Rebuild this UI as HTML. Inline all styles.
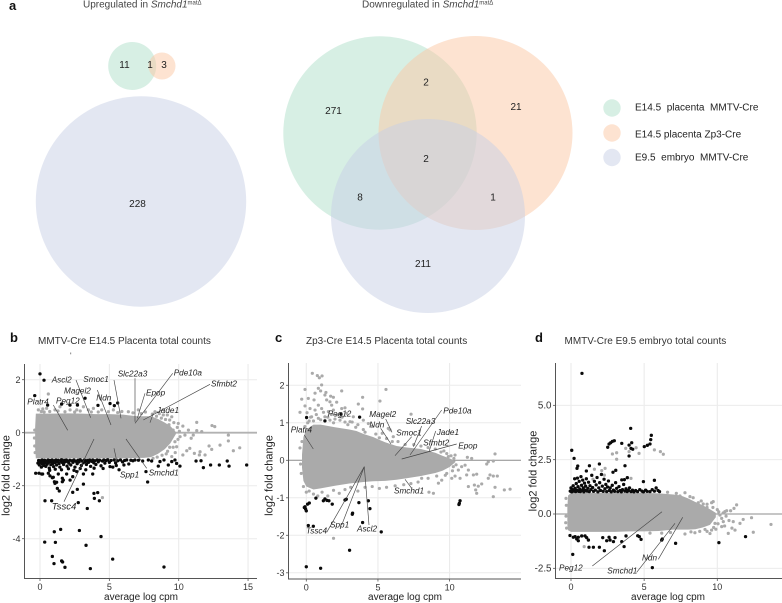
<!DOCTYPE html>
<html lang="en">
<head>
<meta charset="utf-8">
<title>Smchd1 Venn diagrams and MA plots</title>
<style>
html,body{margin:0;padding:0;background:#fff;width:782px;height:603px;overflow:hidden}
svg{display:block;font-family:"Liberation Sans",sans-serif}
.num{font-size:10px;fill:#222;text-anchor:middle}
.leg{font-size:10px;fill:#222;white-space:pre}
.head{font-size:10px;fill:#444}
.title{font-size:10px;fill:#333}
.letter{font-size:13px;font-weight:bold;fill:#111}
.gene{font-size:8.2px;font-style:italic;fill:#222}
.conn{stroke:#444;stroke-width:.65;fill:none}
.xl{font-size:10px;fill:#222;text-anchor:middle}
.yl{font-size:11px;fill:#222;text-anchor:middle}
</style>
</head>
<body>
<svg id="figure" width="782" height="603" viewBox="0 0 782 603" xmlns="http://www.w3.org/2000/svg">
  <g id="venn">
    <text class="letter" x="9" y="10">a</text>
    <text class="head" x="83" y="7.5">Upregulated in <tspan font-style="italic">Smchd1</tspan><tspan font-size="6" dy="-3">matΔ</tspan></text>
    <text class="head" x="362" y="7.5">Downregulated in <tspan font-style="italic">Smchd1</tspan><tspan font-size="6" dy="-3">matΔ</tspan></text>
    <g>
      <circle cx="132.2" cy="66" r="24" fill="#afdfc9" fill-opacity=".5"/>
      <circle cx="162" cy="66" r="13.5" fill="#fbc7a3" fill-opacity=".5"/>
      <circle cx="141" cy="201.5" r="105.2" fill="#c7cfe5" fill-opacity=".5"/>
      <text class="num" x="124.5" y="68">11</text>
      <text class="num" x="150" y="68">1</text>
      <text class="num" x="164" y="68">3</text>
      <text class="num" x="137.5" y="207">228</text>
    </g>
    <g>
      <circle cx="380" cy="133" r="96.7" fill="#afdfc9" fill-opacity=".5"/>
      <circle cx="475.5" cy="133" r="97" fill="#fbc7a3" fill-opacity=".5"/>
      <circle cx="428" cy="216" r="97" fill="#c7cfe5" fill-opacity=".5"/>
      <text class="num" x="333.5" y="114">271</text>
      <text class="num" x="426" y="85.5">2</text>
      <text class="num" x="516" y="110">21</text>
      <text class="num" x="426" y="162">2</text>
      <text class="num" x="360" y="200.5">8</text>
      <text class="num" x="493" y="200.5">1</text>
      <text class="num" x="423" y="267">211</text>
    </g>
    <g>
      <circle cx="612" cy="108" r="8.7" fill="#d7efe4"/>
      <circle cx="612" cy="133" r="8.7" fill="#fde3d1"/>
      <circle cx="612" cy="157.5" r="8.7" fill="#e3e7f2"/>
      <text class="leg" x="635" y="110.5" xml:space="preserve">E14.5  placenta  MMTV-Cre</text>
      <text class="leg" x="635" y="137.5" xml:space="preserve">E14.5 placenta Zp3-Cre</text>
      <text class="leg" x="635" y="160.5" xml:space="preserve">E9.5  embryo  MMTV-Cre</text>
    </g>
  </g>

  <g id="panel-b"></g>
  <g id="panel-c"></g>
  <g id="panel-d"></g>

  <g>
    <text class="letter" x="10" y="342">b</text>
    <text class="title" x="38" y="344">MMTV-Cre E14.5 Placenta total counts</text>
    <rect x="70" y="352.5" width="1.2" height="1.8" fill="#999"/>
    <text class="xl" x="141" y="600">average log cpm</text>
    <text class="yl" transform="translate(9.5,475.5) rotate(-90)">log2 fold change</text>
    <g>
      <line class="conn" x1="53.3" y1="405" x2="67.7" y2="430.3"/>
      <line class="conn" x1="76" y1="380" x2="90.7" y2="417.7"/>
      <line class="conn" x1="97.3" y1="390" x2="111" y2="425"/>
      <line class="conn" x1="114" y1="380" x2="121" y2="418.3"/>
      <line class="conn" x1="135" y1="378.3" x2="135" y2="421.7"/>
      <line class="conn" x1="145" y1="393.3" x2="137.3" y2="418.3"/>
      <line class="conn" x1="172.7" y1="373.3" x2="135" y2="423.3"/>
      <line class="conn" x1="210" y1="384.3" x2="143.3" y2="420"/>
      <line class="conn" x1="153.3" y1="413.3" x2="150" y2="422.7"/>
      <line class="conn" x1="64" y1="501.7" x2="94" y2="439"/>
      <line class="conn" x1="114" y1="448.3" x2="117" y2="462"/>
      <line class="conn" x1="126" y1="439" x2="146.7" y2="468.3"/>
    </g>
    <text class="gene" x="51.7" y="382.3">Ascl2</text>
    <text class="gene" x="83.3" y="382">Smoc1</text>
    <text class="gene" x="117.7" y="376.7">Slc22a3</text>
    <text class="gene" x="173.7" y="375.3">Pde10a</text>
    <text class="gene" x="211" y="386.3">Sfmbt2</text>
    <text class="gene" x="64" y="393.3">Magel2</text>
    <text class="gene" x="146" y="395.7">Epop</text>
    <text class="gene" x="96.3" y="400.3">Ndn</text>
    <text class="gene" x="27.3" y="404.3">Platr4</text>
    <text class="gene" x="56" y="403.3">Peg12</text>
    <text class="gene" x="156.7" y="413">Jade1</text>
    <text class="gene" x="120" y="477.7">Spp1</text>
    <text class="gene" x="148.7" y="475.3">Smchd1</text>
    <text class="gene" x="51.7" y="509.3" style="font-size:9.6px">Tssc4</text>
  </g>

  <g>
    <text class="letter" x="275" y="342">c</text>
    <text class="title" x="306" y="344">Zp3-Cre E14.5 Placenta total counts</text>
    <text class="xl" x="405" y="600">average log cpm</text>
    <text class="yl" transform="translate(272.5,475.5) rotate(-90)">log2 fold change</text>
    <g>
      <line class="conn" x1="304.3" y1="435" x2="313.3" y2="449"/>
      <line class="conn" x1="385.7" y1="419" x2="392" y2="432.3"/>
      <line class="conn" x1="380.7" y1="428.3" x2="391" y2="444"/>
      <line class="conn" x1="411.7" y1="436.7" x2="395" y2="455.7"/>
      <line class="conn" x1="421.7" y1="426" x2="413.3" y2="446.7"/>
      <line class="conn" x1="441.7" y1="410" x2="410" y2="455"/>
      <line class="conn" x1="435.7" y1="431" x2="429" y2="451.7"/>
      <line class="conn" x1="456.7" y1="444" x2="401.7" y2="459"/>
      <line class="conn" x1="411.7" y1="488.3" x2="405" y2="479.3"/>
      <line class="conn" x1="326.7" y1="532.3" x2="364.3" y2="466.7"/>
      <line class="conn" x1="341.7" y1="525" x2="364.3" y2="466.7"/>
      <line class="conn" x1="369" y1="525" x2="364.3" y2="466.7"/>
    </g>
    <text class="gene" x="327.7" y="416.3">Peg12</text>
    <text class="gene" x="369.3" y="417">Magel2</text>
    <text class="gene" x="369.3" y="427.3">Ndn</text>
    <text class="gene" x="443.3" y="413.7">Pde10a</text>
    <text class="gene" x="405.7" y="424">Slc22a3</text>
    <text class="gene" x="290.7" y="432.3">Platr4</text>
    <text class="gene" x="396.3" y="435.3">Smoc1</text>
    <text class="gene" x="436.7" y="435">Jade1</text>
    <text class="gene" x="423.3" y="445.3">Sfmbt2</text>
    <text class="gene" x="458.3" y="448.3">Epop</text>
    <text class="gene" x="394" y="493.7">Smchd1</text>
    <text class="gene" x="330" y="527.3">Spp1</text>
    <text class="gene" x="306" y="533.3">Tssc4</text>
    <text class="gene" x="357" y="531.7">Ascl2</text>
  </g>

  <g>
    <text class="letter" x="535" y="342">d</text>
    <text class="title" x="564.5" y="344">MMTV-Cre E9.5 embryo total counts</text>
    <text class="xl" x="668" y="600">average log cpm</text>
    <text class="yl" transform="translate(536.5,471) rotate(-90)">log2 fold change</text>
    <g>
      <line class="conn" x1="592.3" y1="566" x2="662" y2="511.7"/>
      <line class="conn" x1="636.7" y1="572.3" x2="675" y2="523.3"/>
      <line class="conn" x1="658.3" y1="559.3" x2="682.7" y2="517.3"/>
    </g>
    <text class="gene" x="559" y="570.3">Peg12</text>
    <text class="gene" x="607.3" y="573.7">Smchd1</text>
    <text class="gene" x="642" y="560.3">Ndn</text>
  </g>
</svg>

<script>
/* Panel b data: average log cpm / log2 fold change */
var bTicksX = [0, 5, 10, 15];
var bTicksY = [2, 0, -2, -4];
var bTickLabelsY = ['2', '0', '-2', '-4'];
var bDenseX = [-.35, -.3, 0, 1, 2, 3, 4, 5, 6, 7, 7.5, 8, 8.5, 9, 9.4, 9.8];
var bDenseUpper = [.2, .72, .72, .72, .73, .72, .7, .7, .68, .62, .62, .62, .52, .38, .25, .02];
var bDenseLower = [-.6, -.97, -.97, -.97, -.97, -.97, -.97, -.97, -.97, -.95, -.95, -.92, -.8, -.62, -.4, -.05];
var bGray = [[.6,1.46],[-.12,.86],[.1,.8],[.48,.92],[.3,.78],[1.08,.86],[1.44,.98],[1.8,.79],[2.17,.86],[2.65,.86],[3.13,.98],[3.49,.86],[3.85,.92],[4.45,.86],[4.93,.79],[5.29,.86],[5.9,.8],[6.37,.79],[7.09,.86],[7.6,.78],[8.29,.79],[8.89,.67],[8.6,.72],[9.18,.67],[9.5,.6],[9.97,.35],[10.3,.25],[10.7,.1],[11.3,.39],[12.4,.27],[12.6,.23],[13.58,-.09],[13.58,-.31],[14.4,-.57],[13.94,-.68],[12.98,-.47],[12.19,-.5],[12.38,-.63],[11.54,-.72],[11.49,-.84],[11.13,-.78],[11.9,-.84],[10.8,-.59],[10.58,-.68],[10.3,-.84],[10.9,-.21],[11.3,.08],[11.66,.04],[10.1,-.15],[10.45,-.09],[9.73,-.34],[9.85,-.53],[11.05,-.09],[9.6,.1],[9.3,.3],[9.75,-.75],[9.35,-.55],[9.1,-.8],[9.5,-.9],[4.5,-2.45],[1.7,-.98],[3.4,-1.02],[5.5,-.98],[2.7,-1.05],[8.1,.7],[8.4,.62],[8.75,.55],[9.05,.5],[9.35,.48],[9.65,.38],[9.9,.2],[10.05,.05],[9.95,-.25],[9.6,-.55],[9.2,-.7],[8.8,-.85],[8.45,-.92],[8.15,-.97],[-.38,.1],[-.4,-.2],[-.38,-.5],[-.35,-.75],[.7,.8],[1.3,.82],[2.5,.78],[3.7,.78],[4.2,.78],[5.6,.76],[6.7,.75],[7.3,.72],[.2,.9],[2.9,.82]];
var bBlack = [[0,2.22],[.29,1.98],[-.38,1.4],[.55,1.04],[1.56,1.08],[2.16,1.04],[2.7,1.04],[3.25,1.3],[4.18,1.03],[5.05,1.1],[5.36,1.02],[5.6,1.12],[-.1,-1.05],[-.15,-1.15],[-.05,-1.22],[0,-1.06],[.05,-1.12],[.1,-1.3],[.15,-1.03],[.18,-1.18],[.25,-1.09],[.28,-1.24],[.33,-1.04],[.38,-1.14],[.42,-1.27],[.47,-1.07],[.52,-1.19],[.58,-1.03],[.62,-1.12],[.67,-1.34],[.72,-1.05],[.78,-1.21],[.82,-1.1],[.87,-1.03],[.93,-1.16],[.98,-1.28],[1.03,-1.06],[1.08,-1.13],[1.15,-1.03],[1.2,-1.22],[1.25,-1.09],[1.32,-1.04],[1.38,-1.16],[1.43,-1.3],[1.5,-1.07],[1.55,-1.02],[1.62,-1.13],[1.7,-1.2],[1.75,-1.05],[1.82,-1.1],[1.9,-1.03],[1.95,-1.26],[2,-1.08],[2.08,-1.15],[2.15,-1.04],[2.22,-1.22],[2.3,-1.06],[2.38,-1.12],[2.45,-1.03],[2.52,-1.3],[2.6,-1.08],[2.68,-1.17],[2.75,-1.04],[2.82,-1.1],[2.9,-1.02],[2.98,-1.24],[3.05,-1.07],[3.12,-1.14],[3.2,-1.03],[3.28,-1.09],[3.35,-1.2],[3.42,-1.05],[3.5,-1.12],[3.58,-1.03],[3.65,-1.27],[3.72,-1.08],[3.8,-1.03],[3.88,-1.14],[3.95,-1.06],[4.03,-1.2],[4.12,-1.03],[4.2,-1.1],[4.3,-1.04],[4.4,-1.25],[4.5,-1.07],[4.6,-1.03],[4.68,-1.15],[4.78,-1.05],[4.88,-1.02],[5,-1.12],[5.12,-1.05],[5.25,-1.3],[5.35,-1.03],[5.45,-1.14],[5.6,-1.06],[5.7,-1.4],[5.8,-1.03],[5.95,-1.1],[6.1,-1.05],[6.25,-1.03],[6.4,-1.18],[6.55,-1.04],[6.7,-1.06],[6.85,-1.03],[7.1,-1.04],[7.4,-1.07],[7.81,-1.03],[8.05,-1.07],[8.53,-1.26],[8.65,-1.09],[8.94,-1.03],[9.25,-1.22],[9.5,-1.09],[9.73,-1.03],[9.85,-1.16],[10.09,-1.26],[11.25,-1.07],[11.61,-1.06],[11.78,-1.32],[12.3,-1.22],[12.93,-1.22],[13.5,-1.07],[13.63,-1.26],[14.9,-1.22],[7.64,-1.47],[7.76,-1.86],[-.31,-1.53],[-.07,-1.53],[.12,-1.56],[.19,-1.56],[.6,-1.53],[.72,-1.63],[.89,-1.7],[.96,-1.68],[1.08,-1.91],[1.04,-1.85],[1.2,-1.87],[1.25,-2.1],[1.39,-2.2],[1.32,-1.56],[1.61,-1.72],[1.61,-1.85],[1.68,-1.79],[1.92,-1.56],[2.17,-1.79],[2.36,-1.66],[2.65,-1.47],[3.13,-1.56],[3.8,-1.56],[3.13,-1.94],[2.69,-2.14],[2.36,-2.25],[.36,-2.57],[.84,-2.57],[2.76,-2.64],[3.41,-2.86],[3.89,-2.29],[4.16,-2.26],[3.92,-2.48],[4.28,-2.57],[1.03,-3.74],[1.49,-3.65],[2.84,-3.69],[4.4,-3.92],[.34,-4.13],[1.11,-4.14],[3.32,-4.25],[.89,-4.67],[1.01,-4.94],[1.56,-4.84],[1.63,-4.88],[1.8,-5.08],[3.63,-5.13],[5.24,-4.77],[8.94,-5.07],[.7,-1.42],[1.1,-1.38],[1.55,-1.4],[2.05,-1.36],[2.45,-1.42],[2.9,-1.35],[3.3,-1.4],[3.9,-1.34],[4.55,-1.35],[5.05,-1.28],[5.5,-1.24],[6.05,-1.22]];

/* Panel c data */
var cTicksX = [0, 5, 10];
var cTicksY = [2, 1, 0, -1, -2, -3];
var cTickLabelsY = ['2', '1', '0', '-1', '-2', '-3'];
var cDenseX = [-.3, -.2, 0, .5, 1, 2, 3, 3.5, 4, 4.66, 5.5, 6.3, 7, 8, 9, 9.5, 10, 10.4];
var cDenseUpper = [.15, .62, .82, .95, .95, .88, .82, .78, .7, .62, .48, .38, .34, .3, .2, .12, .05, -.02];
var cDenseLower = [-.2, -.55, -.7, -.78, -.75, -.68, -.62, -.6, -.58, -.56, -.55, -.52, -.48, -.42, -.34, -.28, -.18, -.05];
var cGray = [[.42,2.32],[.77,2.26],[.91,2.2],[1.1,2.25],[1.07,2.01],[-.09,1.89],[.84,1.92],[.61,1.79],[1,1.85],[1.3,1.74],[1.37,1.81],[.14,1.65],[-.32,1.63],[.54,1.61],[1.7,1.71],[2.47,1.85],[5.56,1.89],[1.89,1.68],[2.12,1.55],[1.42,1.61],[.84,1.47],[1.65,1.56],[1.77,1.47],[-.09,1.45],[-.44,1.28],[3.93,1.68],[3.63,1.5],[5.14,1.58],[3.93,1.37],[2.7,1.4],[2.47,1.38],[.26,1.38],[1.07,1.38],[.61,1.34],[1.89,1.34],[.05,1.27],[2.82,1.25],[3.28,1.16],[3.98,1.07],[4.33,.98],[4.56,.9],[3.05,1.03],[2.12,1.21],[1.54,1.3],[.37,1.16],[.84,1.12],[2.35,1.07],[1.65,1.07],[.2,1.05],[1.3,1.16],[2.9,.95],[3.6,.95],[5.72,.85],[6.07,.63],[5.3,.72],[5.84,.81],[7.31,1.23],[3.98,.82],[-.44,.33],[.1,1],[.5,1.05],[1.9,1],[13.17,.17],[12.7,-.04],[13.05,-.02],[12.59,-.1],[11.24,.08],[11.54,.05],[10.38,.14],[11.89,-.37],[11.66,-.39],[12.24,-.63],[12.82,-.39],[13.05,-.42],[13.33,-.42],[12.7,-.48],[11.73,-.66],[11.31,-.7],[12,-.69],[11.82,-.79],[11.89,-.88],[13.17,-.72],[13.82,-.79],[14.22,-.77],[13.05,-.97],[11.31,-.26],[11.19,-.39],[10.73,-.48],[10.38,-.42],[10.61,-.26],[10.15,-.48],[9.45,-.53],[9.22,-.61],[8.87,-.88],[8.56,-.85],[8.05,-.48],[11.08,-.13],[10.84,-.17],[10.26,-.17],[9.8,-.35],[9.91,.1],[.2,-.82],[.5,-.9],[.8,-.95],[1.1,-.85],[1.5,-.95],[1.9,-.8],[2.3,-.88],[2.7,-.78],[3.1,-.72],[3.6,-.82],[4.1,-.72],[4.6,-.7],[5.1,-.75],[5.6,-.72],[6.2,-.68],[6.8,-.65],[7.3,-.62],[7.8,-.58],[1.9,-2.08],[.3,1.15],[.7,1.22],[1,1.08],[1.2,1.28],[1.5,1.15],[1.75,1.22],[2,1.1],[2.5,1.15],[2.7,1.02],[3.2,1.02],[3.45,.88],[4.1,.75],[4.85,.7],[5.1,.6],[5.6,.58],[6,.5],[6.4,.5],[6.9,.42],[7.5,.42],[8,.38],[8.5,.34],[9,.3],[9.4,.22],[9.8,.18],[10.1,.12],[10.3,.05],[9.6,.25],[10.45,-.12],[10.2,-.28],[9.7,-.4],[9.1,-.42],[8.5,-.48],[-.4,-.1],[-.35,-.35],[-.3,.5],[-.1,.9],[-.2,-.7],[0,-.85],[.4,.35]];
var cBlack = [[.02,1.14],[1.3,1.05],[2.42,1.23],[3.72,1.15],[-.09,-1.24],[-.05,-1.3],[0,-1.35],[.09,-1.17],[.21,-1.14],[-.14,-1.26],[.67,-1.01],[1.19,-1.08],[1.3,-1.03],[1.44,-1.07],[1.58,-1.08],[1.81,-1.17],[2.7,-1.06],[2.79,-1.04],[3.67,-1.13],[3.23,-1.41],[3.21,-1.44],[3.93,-1.66],[4.33,-1.08],[4.44,-1.29],[5.23,-1.91],[.14,-1.74],[.49,-1.76],[3.02,-2.4],[0,-2.84],[1,-2.88],[10.73,-1.08],[10.68,-1.15],[10.65,-1.18]];

/* Panel d data */
var dTicksX = [0, 5, 10];
var dTicksY = [5, 2.5, 0, -2.5];
var dTickLabelsY = ['5.0', '2.5', '0.0', '-2.5'];
var dDenseX = [-.25, -.2, 0, 1, 2, 3, 4, 5, 6, 7, 7.5, 8, 8.5, 9, 9.5, 9.9];
var dDenseUpper = [.3, .85, .97, .97, .97, .97, .97, .97, .95, .9, .85, .72, .55, .4, .22, .05];
var dDenseLower = [-.5, -.75, -.82, -.82, -.82, -.82, -.8, -.8, -.78, -.72, -.72, -.72, -.7, -.62, -.5, -.15];
var dGray = [[9.61,.52],[9.72,.57],[11.32,.42],[11.14,.26],[10.91,.15],[10.52,.11],[10.64,.15],[12.34,-.17],[11.77,-.25],[13.67,-.48],[12.46,-.84],[11.21,-.74],[10.75,-.89],[11,-.65],[11.55,-.43],[11.09,-.35],[10.41,-.35],[10.18,-.05],[10.6,-.1],[10.3,-.58],[9.84,-.43],[9.61,-.74],[9.16,-.71],[8.47,-.86],[7.79,-.92],[7.79,.98],[7.45,.83],[8.13,.8],[8.7,.52],[9.04,.46],[9.3,.3],[10,.2],[9.9,-.7],[10.5,-.55],[9.5,-.9],[2.83,2.76],[3.12,2.82],[3.12,2.52],[3.74,3.02],[3.97,2.87],[4.45,3.05],[4.65,2.79],[5.7,2.95],[6.11,2.87],[6.31,2.75],[1.6,2.06],[2.33,2.1],[2.28,1.79],[4.1,1.64],[2.1,2],[-.34,.72],[.9,-1.5],[1.5,1.6],[8.35,.75],[8.9,.6],[9.3,.45],[9.7,.3],[10.1,.1],[10.3,-.2],[10.05,-.45],[9.75,-.62],[9.3,-.8],[8.8,-.8],[8.2,-.82],[6.8,-.85],[6.2,-.88],[5.4,-.88],[6.6,1],[7.2,.95],[-.32,.4],[-.34,-.1],[-.36,-.4],[-.3,-.65],[10.8,-.3],[10.4,.05]];
var dBlack = [[.75,6.47],[4.08,3.94],[5.49,3.62],[5.45,3.42],[.05,2.93],[.21,2.56],[2.96,3.37],[2.83,3.34],[2.71,3.28],[2.6,3.22],[2.51,3.07],[3.47,3.25],[4.15,3.28],[3.97,3.17],[4.1,3.02],[4.22,2.98],[3.97,2.67],[5.4,3.22],[5.22,3.16],[5.01,3.1],[3.69,2.22],[1.94,2.3],[1.26,2.22],[.46,2.21],[.41,2.1],[1.05,1.98],[3.06,2.01],[2.87,1.92],[4.95,1.49],[5.7,1.55],[3.47,1.57],[3.65,1.58],[3.85,1.67],[-.05,1.05],[0,1.2],[.05,1.02],[.1,1.12],[.15,1.3],[.2,1.05],[.25,1.62],[.28,1.18],[.32,1.03],[.36,1.4],[.4,1.1],[.44,1.65],[.48,1.26],[.52,1.04],[.56,1.5],[.6,1.15],[.64,1.03],[.68,1.72],[.72,1.32],[.76,1.08],[.8,1.56],[.84,1.2],[.88,1.02],[.92,1.42],[.96,1.1],[1,1.28],[1.05,1.62],[1.1,1.05],[1.15,1.18],[1.2,1.46],[1.25,1.03],[1.3,1.3],[1.36,1.12],[1.42,1.78],[1.48,1.22],[1.54,1.04],[1.6,1.5],[1.66,1.1],[1.72,1.34],[1.78,1.68],[1.84,1.02],[1.9,1.2],[1.96,1.44],[2.02,1.08],[2.08,1.82],[2.14,1.28],[2.2,1.04],[2.26,1.6],[2.32,1.16],[2.38,1.36],[2.44,1.03],[2.5,1.24],[2.56,1.52],[2.62,1.08],[2.68,1.2],[2.75,1.02],[2.82,1.32],[2.9,1.1],[2.98,1.04],[3.05,1.44],[3.12,1.18],[3.2,1.03],[3.28,1.26],[3.36,1.08],[3.44,1.02],[3.52,1.12],[3.6,1.36],[3.68,1.05],[3.76,1.16],[3.84,1.03],[3.92,1.08],[4,1.2],[4.1,1.03],[4.2,1.1],[4.3,1.02],[4.42,1.08],[4.55,1.03],[4.7,1.12],[4.85,1.05],[4.95,1.02],[5.1,1.1],[5.2,1.04],[5.4,1.03],[5.55,1.12],[5.7,1.05],[5.82,1.2],[5.95,1.08],[6.05,1.03],[-.07,-.99],[.16,-1.07],[.28,-1.04],[.39,-1.15],[.5,-1.07],[.5,-1.23],[.73,-1.01],[.96,-1.01],[1.07,-1.09],[1.19,-1.2],[2.17,-1.09],[2.44,-1.23],[2.6,-1.07],[2.67,-1.2],[3.01,-1.09],[2.9,-1.27],[3.76,-1.01],[3.47,-1.27],[4.56,-1],[4.67,-1.04],[4.79,-1.17],[3.63,-1.5],[1.23,-1.53],[1.53,-1.53],[1.94,-1.53],[2.28,-1.69],[.12,-1.86],[5.56,-2.47],[6.2,-1.2],[6.24,-1.15],[7.15,-1.35],[10.11,-1.32],[11.93,-1.04]];

var SVGNS = 'http://www.w3.org/2000/svg';

function makeAxisX(zeroPx, pxPerUnit) {
  return function (v) { return zeroPx + pxPerUnit * v; };
}
function makeAxisY(zeroPx, pxPerUnit) {
  return function (v) { return zeroPx - pxPerUnit * v; };
}

function drawPanel(groupId, opts, ticksX, ticksY, tickLabelsY, denseX, denseUpper, denseLower, gray, black) {
  var g = document.getElementById(groupId);
  var x = makeAxisX(opts.x0, opts.xs);
  var y = makeAxisY(opts.y0, opts.ys);

  ticksX.forEach(function (t) {
    var el = document.createElementNS(SVGNS, 'line');
    
    
    el.setAttribute('x1', x(t));
    el.setAttribute('x2', x(t));
    el.setAttribute('y1', opts.top);
    el.setAttribute('y2', opts.bottom);
    el.setAttribute('stroke', '#e9e9e9');
    el.setAttribute('stroke-width', '1');
    g.appendChild(el);
  });
  ticksY.forEach(function (t) {
    var el = document.createElementNS(SVGNS, 'line');
    
    
    el.setAttribute('x1', opts.left);
    el.setAttribute('x2', opts.right);
    el.setAttribute('y1', y(t));
    el.setAttribute('y2', y(t));
    el.setAttribute('stroke', t === 0 ? opts.zeroColor : '#ececec');
    el.setAttribute('stroke-width', t === 0 ? opts.zeroWidth : 1);
    g.appendChild(el);
  });

  var pts = [];
  denseX.forEach(function (v, i) { pts.push(x(v) + ',' + y(denseUpper[i])); });
  for (var i = denseX.length - 1; i >= 0; i--) { pts.push(x(denseX[i]) + ',' + y(denseLower[i])); }
  var mass = document.createElementNS(SVGNS, 'polygon');
  
  
  mass.setAttribute('points', pts.join(' '));
  mass.setAttribute('fill', '#aaaaaa');
  g.appendChild(mass);

  gray.forEach(function (p) {
    var el = document.createElementNS(SVGNS, 'circle');
    
    
    el.setAttribute('cx', x(p[0]));
    el.setAttribute('cy', y(p[1]));
    el.setAttribute('r', '1.6');
    el.setAttribute('fill', '#aaaaaa');
    g.appendChild(el);
  });
  black.forEach(function (p) {
    var el = document.createElementNS(SVGNS, 'circle');
    
    
    el.setAttribute('cx', x(p[0]));
    el.setAttribute('cy', y(p[1]));
    el.setAttribute('r', '1.65');
    el.setAttribute('fill', '#0a0a0a');
    g.appendChild(el);
  });

  var spine = document.createElementNS(SVGNS, 'path');
  
  
  spine.setAttribute('d', 'M' + opts.left + ' ' + opts.top + 'V' + opts.bottom + 'H' + opts.right);
  spine.setAttribute('fill', 'none');
  spine.setAttribute('stroke', '#555');
  spine.setAttribute('stroke-width', '1');
  g.appendChild(spine);

  ticksX.forEach(function (t) {
    var mark = document.createElementNS(SVGNS, 'line');
    
    
    mark.setAttribute('x1', x(t));
    mark.setAttribute('x2', x(t));
    mark.setAttribute('y1', opts.bottom);
    mark.setAttribute('y2', opts.bottom + 2.5);
    mark.setAttribute('stroke', '#555');
    mark.setAttribute('stroke-width', '.8');
    g.appendChild(mark);
    var label = document.createElementNS(SVGNS, 'text');
    
    
    label.setAttribute('x', x(t));
    label.setAttribute('y', opts.bottom + 11.5);
    label.setAttribute('text-anchor', 'middle');
    label.setAttribute('font-size', '9');
    label.setAttribute('fill', '#333');
    label.textContent = String(t);
    g.appendChild(label);
  });
  ticksY.forEach(function (t, i) {
    var mark = document.createElementNS(SVGNS, 'line');
    
    
    mark.setAttribute('x1', opts.left - 2.5);
    mark.setAttribute('x2', opts.left);
    mark.setAttribute('y1', y(t));
    mark.setAttribute('y2', y(t));
    mark.setAttribute('stroke', '#555');
    mark.setAttribute('stroke-width', '.8');
    g.appendChild(mark);
    var label = document.createElementNS(SVGNS, 'text');
    
    
    label.setAttribute('x', opts.left - 4);
    label.setAttribute('y', y(t) + 3.2);
    label.setAttribute('text-anchor', 'end');
    label.setAttribute('font-size', opts.tickFont);
    label.setAttribute('fill', '#333');
    label.textContent = tickLabelsY[i];
    g.appendChild(label);
  });
}

drawPanel('panel-b', {x0: 40, xs: 13.87, y0: 432.7, ys: 26.5, left: 24.5, right: 257, top: 364, bottom: 578.5, zeroColor: '#b2b2b2', zeroWidth: 1.8, tickFont: 9}, bTicksX, bTicksY, bTickLabelsY, bDenseX, bDenseUpper, bDenseLower, bGray, bBlack);
drawPanel('panel-c', {x0: 306.3, xs: 14.33, y0: 460.3, ys: 37.5, left: 288.5, right: 521, top: 363, bottom: 579, zeroColor: '#8c8c8c', zeroWidth: 1, tickFont: 9}, cTicksX, cTicksY, cTickLabelsY, cDenseX, cDenseUpper, cDenseLower, cGray, cBlack);
drawPanel('panel-d', {x0: 571, xs: 14.63, y0: 514, ys: 21.73, left: 555.5, right: 782, top: 363, bottom: 578.5, zeroColor: '#8c8c8c', zeroWidth: 1, tickFont: 9.8}, dTicksX, dTicksY, dTickLabelsY, dDenseX, dDenseUpper, dDenseLower, dGray, dBlack);
</script>
</body>
</html>
